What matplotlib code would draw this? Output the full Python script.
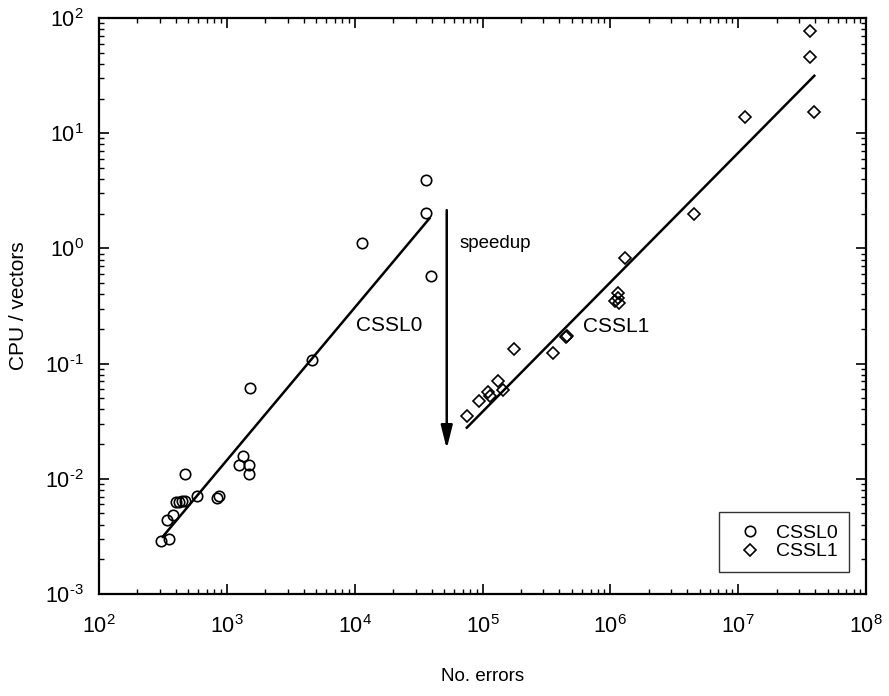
import numpy as np
import matplotlib
matplotlib.use('Agg')
import matplotlib.pyplot as plt
from matplotlib.ticker import FuncFormatter, LogLocator

plt.rcParams['font.family'] = ['Liberation Sans', 'DejaVu Sans']
plt.rcParams['mathtext.fontset'] = 'custom'
plt.rcParams['mathtext.rm'] = 'Liberation Sans'
plt.rcParams['mathtext.it'] = 'Liberation Sans'

# CSSL0 measurements (errors, CPU/vectors)
cssl0_err = [304, 353, 342, 382, 400, 425, 448, 471, 471, 581, 843, 865,
             1239, 1346, 1483, 1500, 1517, 4614, 11480, 36390, 36390, 39380]
cssl0_cpu = [0.00287, 0.00302, 0.00439, 0.00482, 0.00632, 0.00632, 0.0064, 0.00646,
             0.0109, 0.00713, 0.00685, 0.00713, 0.0132, 0.0158, 0.0132, 0.0109,
             0.0618, 0.107, 1.107, 3.93, 2.02, 0.575]

# CSSL1 measurements
cssl1_err = [76200, 94600, 114700, 111000, 133000, 145800, 176600, 354000,
             451000, 455000, 1.09e6, 1.14e6, 1.16e6, 1.15e6, 1.30e6, 4.55e6,
             11.3e6, 36.6e6, 36.3e6, 39.4e6]
cssl1_cpu = [0.0353, 0.0473, 0.0524, 0.057, 0.0706, 0.059, 0.133, 0.123,
             0.171, 0.175, 0.351, 0.407, 0.333, 0.37, 0.82, 1.98,
             13.7, 77.6, 45.6, 15.2]

# fitted lines (end points)
fit0_err = [315, 38460]
fit0_cpu = [0.00314, 1.82]
fit1_err = [75400, 39.4e6]
fit1_cpu = [0.0278, 31.5]


def pow10_label(v, pos):
    e = int(round(np.log10(v)))
    s = str(e).replace('-', r'\text{-}')
    return r'$\mathregular{10^{' + s + '}}$'


fig = plt.figure(figsize=(8.89, 6.96), dpi=100)
ax = fig.add_axes([99 / 889, 1 - 594 / 696, 767 / 889, 576 / 696])

ax.plot(fit0_err, fit0_cpu, color='black', lw=1.8)
ax.plot(fit1_err, fit1_cpu, color='black', lw=1.8)
ax.plot(cssl0_err, cssl0_cpu, 'o', mfc='none', mec='black', mew=1.2, ms=7.5,
        ls='none', label='CSSL0')
ax.plot(cssl1_err, cssl1_cpu, 'D', mfc='none', mec='black', mew=1.2, ms=6.5,
        ls='none', label='CSSL1')

# speedup arrow
ax.annotate('', xy=(52500, 0.0182), xytext=(52500, 2.15),
            arrowprops=dict(arrowstyle='-|>,head_length=1.4,head_width=0.35',
                            color='black', lw=1.8, shrinkA=0, shrinkB=0))
ax.text(65600, 1.11, 'speedup', fontsize=13.5, va='center', ha='left')
ax.text(10260, 0.216, 'CSSL0', fontsize=15, va='center', ha='left')
ax.text(6.1e5, 0.212, 'CSSL1', fontsize=15, va='center', ha='left')

ax.set_xscale('log')
ax.set_yscale('log')
ax.set_xlim(1e2, 1e8)
ax.set_ylim(1e-3, 1e2)
ax.xaxis.set_major_locator(LogLocator(base=10, numticks=10))
ax.yaxis.set_major_locator(LogLocator(base=10, numticks=10))
ax.xaxis.set_major_formatter(FuncFormatter(pow10_label))
ax.yaxis.set_major_formatter(FuncFormatter(pow10_label))
ax.tick_params(which='both', direction='in', top=True, right=True, labelsize=15.5)
ax.tick_params(which='major', length=7, width=1.2)
ax.tick_params(which='minor', length=3.5, width=1)
ax.tick_params(axis='x', which='major', pad=15)
ax.tick_params(axis='y', which='major', pad=11)
for s in ax.spines.values():
    s.set_linewidth(1.6)

ax.set_xlabel('No. errors', fontsize=13.5)
ax.xaxis.set_label_coords(0.5, -(668 - 594) / 576)
ax.set_ylabel('CPU / vectors', fontsize=15)
ax.yaxis.set_label_coords(-(99 - 28) / 767, 0.5)

leg = ax.legend(loc='lower right', fontsize=14, frameon=True, fancybox=False,
                edgecolor='black', handletextpad=0.3, borderpad=0.6,
                handlelength=2.0, labelspacing=0.05, borderaxespad=0,
                bbox_to_anchor=((849 - 99) / 767, (594 - 572) / 576))
leg.get_frame().set_linewidth(1.0)

fig.savefig('out.png', dpi=100)
